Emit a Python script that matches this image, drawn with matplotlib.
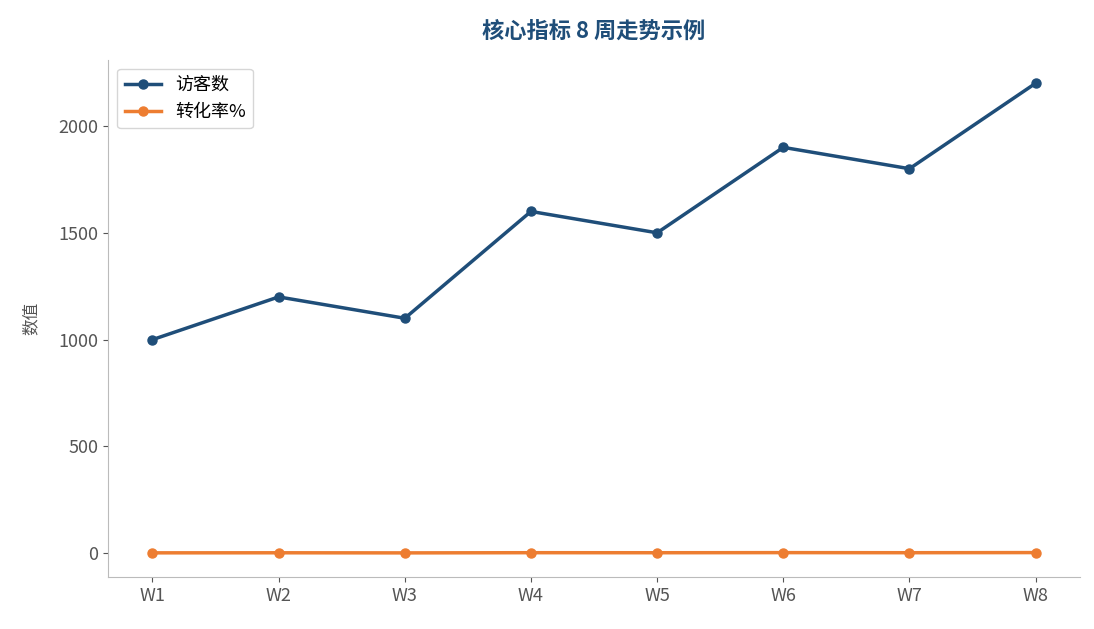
import matplotlib
matplotlib.use("Agg")
import matplotlib.pyplot as plt

plt.rcParams['font.family'] = ['Noto Sans CJK SC', 'DejaVu Sans']

# data
weeks = ["W1", "W2", "W3", "W4", "W5", "W6", "W7", "W8"]
visitors = [1000, 1200, 1100, 1600, 1500, 1900, 1800, 2200]
conv_rate = [2.1, 2.4, 1.9, 2.8, 2.6, 3.1, 2.7, 3.3]

fig, ax = plt.subplots(figsize=(10.94, 6.29), dpi=100)
fig.subplots_adjust(left=0.099, right=0.987, top=0.905, bottom=0.083)

ax.plot(weeks, visitors, marker='o', color='#1f4e79', linewidth=2.5, markersize=6.5, label='访客数')
ax.plot(weeks, conv_rate, marker='o', color='#ed7d31', linewidth=2.5, markersize=6.5, label='转化率%')

ax.set_title("核心指标 8 周走势示例", fontsize=16, fontweight='bold', color='#1f4e79', pad=16)
ax.set_ylabel("数值", fontsize=12, color='#555555', labelpad=14)
ax.set_ylim(-110, 2310)
ax.set_yticks([0, 500, 1000, 1500, 2000])
ax.tick_params(colors='#555555', labelsize=13)
for s in ['top', 'right']:
    ax.spines[s].set_visible(False)
for s in ['left', 'bottom']:
    ax.spines[s].set_color('#bbbbbb')
ax.legend(loc='upper left', fontsize=13)

fig.savefig("out.png")
